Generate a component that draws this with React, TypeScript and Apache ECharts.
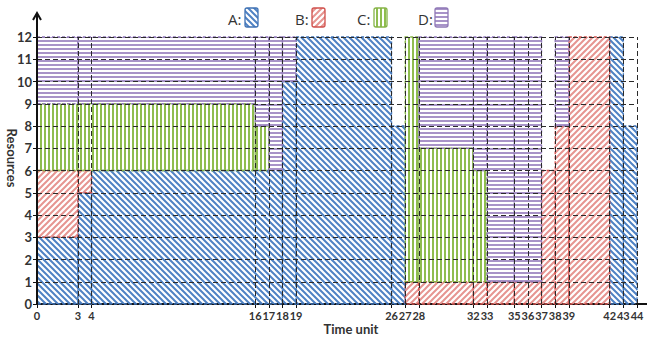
import React, { useEffect, useRef } from 'react';
import * as echarts from 'echarts';

// Task types shown in the legend
const taskTypes = ['A', 'B', 'C', 'D'];

// Rectangles: [startTime, endTime, resourceFrom, resourceTo]
const aTasks = [
  [0, 3, 0, 3],
  [3, 4, 0, 5],
  [4, 18, 0, 6],
  [18, 19, 0, 10],
  [19, 26, 0, 12],
  [26, 27, 0, 8],
  [42, 43, 0, 12],
  [43, 44, 0, 8],
];
const bTasks = [
  [0, 3, 3, 6],
  [3, 4, 5, 6],
  [27, 28, 0, 1],
  [28, 32, 0, 1],
  [32, 33, 0, 1],
  [33, 35, 0, 1],
  [35, 37, 0, 1],
  [37, 38, 0, 6],
  [38, 39, 0, 8],
  [39, 42, 0, 12],
];
const cTasks = [
  [0, 3, 6, 9],
  [3, 16, 6, 9],
  [16, 17, 6, 8],
  [27, 28, 1, 12],
  [28, 32, 1, 7],
  [32, 33, 1, 6],
];
const dTasks = [
  [0, 3, 9, 12],
  [3, 16, 9, 12],
  [16, 17, 8, 12],
  [17, 18, 6, 12],
  [18, 19, 10, 12],
  [28, 32, 7, 12],
  [32, 33, 6, 12],
  [33, 35, 1, 12],
  [35, 37, 1, 12],
  [38, 39, 8, 12],
];

// Time-axis tick labels
const xTicks = [0, 3, 4, 16, 17, 18, 19, 26, 27, 28, 32, 33, 35, 36, 37, 38, 39, 42, 43, 44];
const yMax = 12;

const COLORS = {
  A: { hatch: '#4f82c4', stroke: '#3f72b4' },
  B: { hatch: '#e69591', stroke: '#d0504c' },
  C: { hatch: '#8fbd4f', stroke: '#86b447' },
  D: { hatch: '#a893c8', stroke: '#8f78b6' },
};

function hatch(kind: string, color: string): string {
  const c = document.createElement('canvas');
  const ctx = c.getContext('2d')!;
  if (kind === 'back' || kind === 'fwd') {
    c.width = 6;
    c.height = 6;
    ctx.strokeStyle = color;
    ctx.lineWidth = 2;
    ctx.beginPath();
    if (kind === 'back') {
      ctx.moveTo(-1, -1); ctx.lineTo(7, 7);
      ctx.moveTo(-1, 5); ctx.lineTo(1, 7);
      ctx.moveTo(5, -1); ctx.lineTo(7, 1);
    } else {
      ctx.moveTo(-1, 7); ctx.lineTo(7, -1);
      ctx.moveTo(-1, 1); ctx.lineTo(1, -1);
      ctx.moveTo(5, 7); ctx.lineTo(7, 5);
    }
    ctx.stroke();
  } else if (kind === 'vert') {
    c.width = 4;
    c.height = 4;
    ctx.fillStyle = color;
    ctx.fillRect(0, 0, 2, 4);
  } else {
    c.width = 4;
    c.height = 4;
    ctx.fillStyle = color;
    ctx.fillRect(0, 0, 4, 2);
  }
  return c.toDataURL();
}

export default function App() {
  const ref = useRef<HTMLDivElement>(null);
  useEffect(() => {
    const chart = echarts.init(ref.current!, null, { renderer: 'svg' });
    const pats: Record<string, any> = {
      A: { image: hatch('back', COLORS.A.hatch), repeat: 'repeat' },
      B: { image: hatch('fwd', COLORS.B.hatch), repeat: 'repeat' },
      C: { image: hatch('vert', COLORS.C.hatch), repeat: 'repeat' },
      D: { image: hatch('horz', COLORS.D.hatch), repeat: 'repeat' },
    };
    const rectSeries = (name: string, data: number[][]) => ({
      type: 'custom',
      name,
      data,
      silent: true,
      z: 2,
      encode: { x: [0, 1], y: [2, 3] },
      renderItem: (_p: any, api: any) => {
        const p0 = api.coord([api.value(0), api.value(3)]);
        const p1 = api.coord([api.value(1), api.value(2)]);
        return {
          type: 'rect',
          shape: { x: p0[0], y: p0[1], width: p1[0] - p0[0], height: p1[1] - p0[1] },
          style: {
            fill: pats[name],
            stroke: (COLORS as any)[name].stroke,
            lineWidth: 1.3,
            lineDash: [3, 2],
          },
        };
      },
    });

    const gridLines: any[] = [];
    xTicks.filter((v) => v > 0).forEach((v) => gridLines.push({ xAxis: v }));
    for (let r = 1; r <= yMax; r++) gridLines.push({ yAxis: r });

    const legendX = [228, 295, 357, 418];
    const legend: any[] = [];
    taskTypes.forEach((t, i) => {
      legend.push({
        type: 'text',
        x: legendX[i],
        y: 19,
        style: {
          text: t + ':',
          font: '15px "Open Sans", sans-serif',
          fill: '#333',
          textVerticalAlign: 'middle',
        },
      });
      legend.push({
        type: 'rect',
        shape: { x: legendX[i] + 17, y: 8, width: 13, height: 19, r: 2 },
        style: {
          fill: pats[t],
          stroke: (COLORS as any)[t].stroke,
          lineWidth: 1.3,
        },
      });
    });

    chart.setOption({
      animation: false,
      backgroundColor: '#fff',
      grid: { left: 37, right: 10, top: 37, bottom: 35 },
      xAxis: {
        type: 'value',
        min: 0,
        max: 44,
        axisLine: { show: true, lineStyle: { color: '#111', width: 2 } },
        axisTick: { show: true, customValues: xTicks, length: 4, lineStyle: { color: '#111' } },
        axisLabel: {
          customValues: xTicks,
          showMinLabel: true,
          showMaxLabel: true,
          hideOverlap: false,
          fontFamily: 'Lato',
          fontWeight: 'bold',
          fontSize: 11,
          color: '#333',
          margin: 6,
        },
        splitLine: { show: false },
      },
      yAxis: {
        type: 'value',
        min: 0,
        max: yMax,
        interval: 1,
        axisLine: { show: false },
        axisTick: { show: true, length: 4, lineStyle: { color: '#111' } },
        axisLabel: {
          fontFamily: 'Lato',
          fontWeight: 'bold',
          fontSize: 13,
          color: '#333',
          margin: 5,
        },
        splitLine: { show: false },
      },
      series: [
        rectSeries('A', aTasks),
        rectSeries('B', bTasks),
        rectSeries('C', cTasks),
        rectSeries('D', dTasks),
        {
          type: 'line',
          data: [],
          silent: true,
          markLine: {
            silent: true,
            symbol: ['none', 'none'],
            label: { show: false },
            lineStyle: { type: [5, 3], color: '#2a2a2a', width: 1 },
            emphasis: { disabled: true },
            data: gridLines,
          },
        },
      ],
      graphic: [
        {
          type: 'line',
          z: 100,
          shape: { x1: 37, y1: 305, x2: 37, y2: 14 },
          style: { stroke: '#111', lineWidth: 2 },
        },
        {
          type: 'polyline',
          z: 100,
          shape: { points: [[33, 20], [37, 13], [41, 20]] },
          style: { stroke: '#111', lineWidth: 2, fill: null },
        },
        {
          type: 'line',
          z: 100,
          shape: { x1: 636, y1: 304, x2: 647, y2: 304 },
          style: { stroke: '#111', lineWidth: 2 },
        },
        {
          type: 'text',
          x: 12,
          y: 158,
          rotation: -Math.PI / 2,
          style: {
            text: 'Resources',
            font: 'bold 13px Lato, sans-serif',
            fill: '#333',
            textAlign: 'center',
            textVerticalAlign: 'middle',
          },
        },
        {
          type: 'text',
          x: 351,
          y: 329,
          style: {
            text: 'Time unit',
            font: 'bold 13px Lato, sans-serif',
            fill: '#333',
            textAlign: 'center',
            textVerticalAlign: 'middle',
          },
        },
        ...legend,
      ],
    });
    return () => chart.dispose();
  }, []);
  return (
    <div
      ref={ref}
      style={{ position: 'fixed', left: 0, top: 0, width: 647, height: 339, background: '#fff' }}
    />
  );
}
